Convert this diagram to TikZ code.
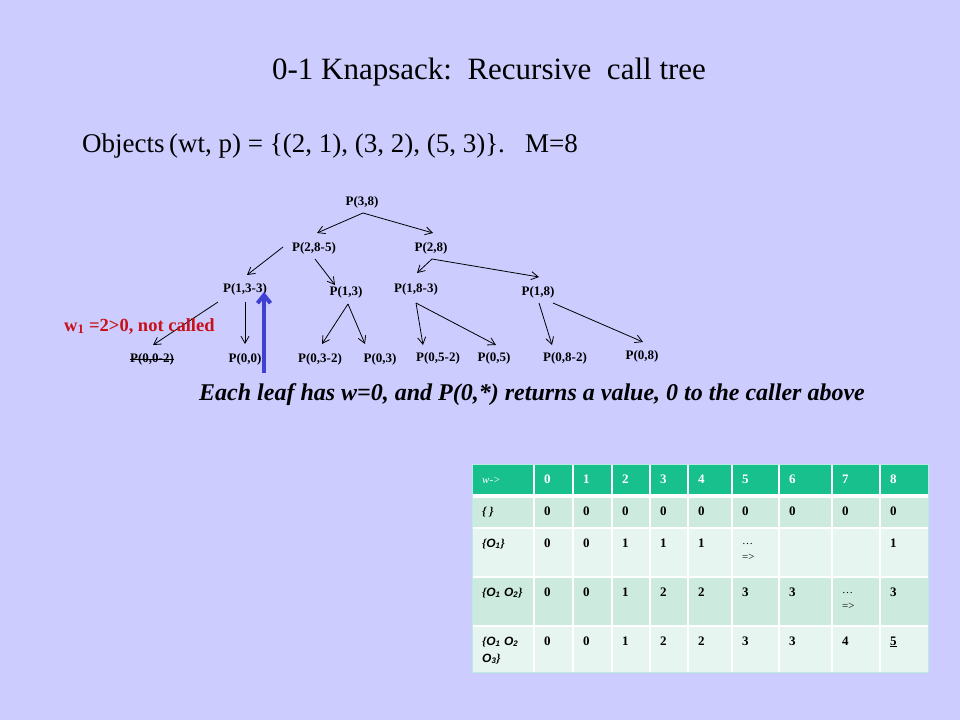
\documentclass[tikz,border=0pt]{standalone}
\usepackage{fontspec}
\setmainfont{Liberation Serif}
\newfontfamily\arsans{Liberation Sans}
\usetikzlibrary{arrows.meta}
\definecolor{bgc}{RGB}{204,204,255}
\definecolor{hdc}{RGB}{24,192,142}
\definecolor{rowdark}{RGB}{204,234,222}
\definecolor{rowlight}{RGB}{230,245,239}
\definecolor{redc}{RGB}{200,16,24}
\definecolor{bluec}{RGB}{64,64,210}
\begin{document}
\begin{tikzpicture}[x=1pt,y=-1pt,
  tn/.style={font=\fontsize{13}{15}\selectfont\bfseries, inner sep=0pt},
  arr/.style={-{Straight Barb[length=7pt,width=8pt]}, line width=0.8pt},
  cell/.style={anchor=base west, inner sep=0pt, font=\fontsize{13}{15}\selectfont\bfseries},
  hcell/.style={cell, text=white},
  lcell/.style={anchor=base west, inner sep=0pt, font=\fontsize{12}{14}\selectfont\bfseries\itshape},
  small/.style={anchor=base west, inner sep=0pt, font=\fontsize{11}{13}\selectfont}]
\fill[bgc] (0,0) rectangle (960,720);
\useasboundingbox (0,0) rectangle (960,720);

% titles
\node[anchor=base, inner sep=0pt, font=\fontsize{31}{37}\selectfont] (title) at (489,79) {0-1 Knapsack:\ \ Recursive\ \ call tree};
\node[anchor=base west, inner sep=0pt, font=\fontsize{27}{32}\selectfont] (objects) at (82,152) {Objects\,(wt, p) = \{(2, 1), (3, 2), (5, 3)\}.\ \ \ M=8};

% tree nodes
\node[tn] (p38)  at (362,202) {P(3,8)};
\node[tn] (p285) at (314,248) {P(2,8-5)};
\node[tn] (p28)  at (431,248) {P(2,8)};
\node[tn] (p133) at (245,289) {P(1,3-3)};
\node[tn] (p13)  at (346,292) {P(1,3)};
\node[tn] (p183) at (416,289) {P(1,8-3)};
\node[tn] (p18)  at (538,292) {P(1,8)};
\node[tn] (p002) at (152,359) {P(0,0-2)};
\node[tn] (p00)  at (245,359) {P(0,0)};
\node[tn] (p032) at (320,359) {P(0,3-2)};
\node[tn] (p03)  at (380,359) {P(0,3)};
\node[tn] (p052) at (438,358) {P(0,5-2)};
\node[tn] (p05)  at (494,358) {P(0,5)};
\node[tn] (p082) at (565,358) {P(0,8-2)};
\node[tn] (p08)  at (642,356) {P(0,8)};
\draw[line width=0.8pt] (p002.west) -- (p002.east);

% tree arrows
\draw[arr] ([shift={(1,11)}]p38.center) -- ([shift={(3,-15)}]p285.center);
\draw[arr] ([shift={(1,11)}]p38.center) -- ([shift={(2,-15)}]p28.center);
\draw[arr] ([shift={(-31,-1)}]p285.center) -- ([shift={(2,-14)}]p133.center);
\draw[arr] ([shift={(1,11)}]p285.center) -- ([shift={(-11,-7)}]p13.center);
\draw[arr] ([shift={(-27,13)}]p133.center) -- ([shift={(1,-14)}]p002.center);
\draw[arr] ([shift={(0,13)}]p133.center) -- ([shift={(0,-15)}]p00.center);
\draw[arr] ([shift={(2,12)}]p13.center) -- ([shift={(2,-15)}]p032.center);
\draw[arr] ([shift={(2,12)}]p13.center) -- ([shift={(-15,-15)}]p03.center);
\draw[arr] ([shift={(1,11)}]p28.center) -- ([shift={(1,-16)}]p183.center);
\draw[arr] ([shift={(1,11)}]p28.center) -- ([shift={(1,-15)}]p18.center);
\draw[arr] ([shift={(0,14)}]p183.center) -- ([shift={(-15,-13)}]p052.center);
\draw[arr] ([shift={(0,14)}]p183.center) -- ([shift={(2,-13)}]p05.center);
\draw[arr] ([shift={(1,11)}]p18.center) -- ([shift={(-13,-13)}]p082.center);
\draw[arr] ([shift={(15,11)}]p18.center) -- ([shift={(1,-14)}]p08.center);

% red note
\node[anchor=base west, inner sep=0pt, text=redc, font=\fontsize{18.5}{22}\selectfont\bfseries] (note) at (64,331) {w\textsubscript{1} =2>0, not called};

% blue arrow
\coordinate (bbase) at (264,373);
\coordinate (btip) at (264,292);
\draw[bluec, line width=4pt, -{Straight Barb[length=8pt,width=13pt]}] (bbase) -- (btip);

% leaf note
\node[anchor=base west, inner sep=0pt, font=\fontsize{24}{28}\selectfont\bfseries\itshape] (leafnote) at (199,400) {Each leaf has w=0, and P(0,*) returns a value, 0 to the caller above};

% table
\fill[hdc] (472,464) rectangle (928,495);
\fill[rowdark] (472,495) rectangle (928,528);
\fill[rowlight] (472,528) rectangle (928,577);
\fill[rowdark] (472,577) rectangle (928,626);
\fill[rowlight] (472,626) rectangle (928,672);
\foreach \x in {534,573,612,650,688,732,779,832,880}
  \draw[white, line width=1.2pt] (\x,464) -- (\x,672);
\foreach \y in {495,528,577,626}
  \draw[white, line width=1.2pt] (472,\y) -- (928,\y);
\draw[white, line width=3pt] (472,496.5) -- (928,496.5);
\draw[white!70!hdc, line width=1pt] (472,464) rectangle (928,672);

% header
\node[lcell, text=white, font=\fontsize{11}{13}\selectfont\itshape] (h0) at (482,483) {w->};
\foreach \x/\t in {544/0,583/1,622/2,660/3,698/4,742/5,789/6,842/7,890/8}
  \node[hcell] at (\x,483) {\t};
% row 1
\node[lcell] (r1) at (482,515) {\{ \}};
\foreach \x in {544,583,622,660,698,742,789,842,890}
  \node[cell] at (\x,515) {0};
% row 2
\node[lcell] (r2) at (482,547) {\{{\arsans O\textsubscript{1}}\}};
\foreach \x/\t in {544/0,583/0,622/1,660/1,698/1,890/1}
  \node[cell] at (\x,547) {\t};
\node[small] at (742,544) {\ldots};
\node[small] at (742,560) {=>};
% row 3
\node[lcell] (r3) at (482,596) {\{{\arsans O\textsubscript{1} O\textsubscript{2}}\}};
\foreach \x/\t in {544/0,583/0,622/1,660/2,698/2,742/3,789/3,890/3}
  \node[cell] at (\x,596) {\t};
\node[small] at (842,593) {\ldots};
\node[small] at (842,609) {=>};
% row 4
\node[lcell] (r4a) at (482,645) {\{{\arsans O\textsubscript{1} O\textsubscript{2}}};
\node[lcell] (r4b) at (482,662) {{\arsans O\textsubscript{3}}\}};
\foreach \x/\t in {544/0,583/0,622/1,660/2,698/2,742/3,789/3,842/4}
  \node[cell] at (\x,645) {\t};
\node[cell] at (890,645) {\underline{5}};
\end{tikzpicture}
\end{document}
